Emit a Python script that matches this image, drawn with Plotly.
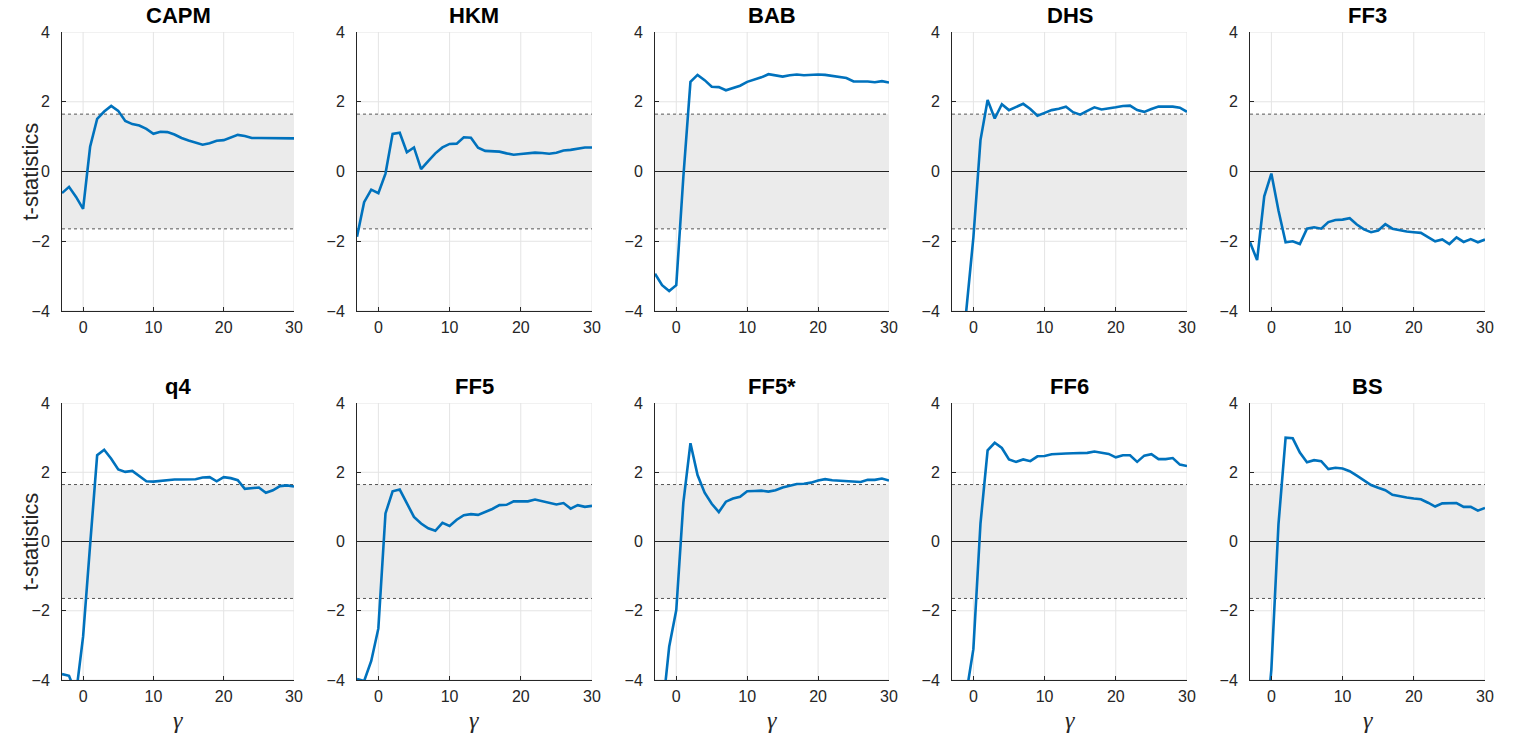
import plotly.graph_objects as go

gamma = list(range(-3, 31))
titles = ["CAPM", "HKM", "BAB", "DHS", "FF3", "q4", "FF5", "FF5*", "FF6", "BS"]

capm = [-0.62, -0.44, -0.73, -1.07, 0.71, 1.51, 1.72, 1.88, 1.74, 1.45, 1.36, 1.32, 1.22, 1.08,
        1.14, 1.13, 1.06, 0.96, 0.89, 0.84, 0.77, 0.81, 0.88, 0.90, 0.97, 1.05, 1.02, 0.96,
        0.96, 0.96, 0.96, 0.96, 0.96, 0.95]
hkm = [-1.87, -0.88, -0.52, -0.62, -0.06, 1.08, 1.11, 0.55, 0.69, 0.07, 0.30, 0.52, 0.69, 0.79,
       0.80, 0.98, 0.97, 0.68, 0.59, 0.59, 0.57, 0.52, 0.48, 0.50, 0.52, 0.54, 0.53, 0.51,
       0.54, 0.60, 0.62, 0.66, 0.69, 0.69]
bab = [-2.93, -3.26, -3.43, -3.26, -0.15, 2.57, 2.77, 2.62, 2.43, 2.42, 2.33, 2.40, 2.46, 2.57,
       2.63, 2.70, 2.79, 2.76, 2.72, 2.76, 2.78, 2.76, 2.78, 2.78, 2.77, 2.74, 2.72, 2.68,
       2.58, 2.59, 2.58, 2.56, 2.59, 2.55]
dhs = [-7.0, -6.0, -4.0, -1.9, 0.9, 2.05, 1.52, 1.93, 1.76, 1.86, 1.94, 1.79, 1.60, 1.68,
       1.76, 1.80, 1.86, 1.70, 1.63, 1.74, 1.84, 1.78, 1.80, 1.84, 1.88, 1.89, 1.76, 1.71,
       1.79, 1.86, 1.86, 1.86, 1.83, 1.71]
ff3 = [-2.03, -2.54, -0.71, -0.06, -1.12, -2.03, -2.00, -2.08, -1.64, -1.60, -1.64, -1.45, -1.39,
       -1.38, -1.34, -1.52, -1.66, -1.74, -1.69, -1.51, -1.64, -1.69, -1.72, -1.74, -1.76, -1.88,
       -2.00, -1.95, -2.08, -1.89, -2.02, -1.94, -2.03, -1.95]
q4 = [-3.83, -3.88, -4.40, -2.75, -0.10, 2.49, 2.65, 2.39, 2.08, 2.01, 2.04, 1.88, 1.74, 1.73,
      1.75, 1.79, 1.79, 1.79, 1.79, 1.80, 1.85, 1.86, 1.74, 1.86, 1.83, 1.77, 1.52, 1.54,
      1.56, 1.41, 1.48, 1.60, 1.62, 1.59]
ff5 = [-3.97, -4.03, -3.45, -2.51, 0.81, 1.45, 1.50, 1.12, 0.71, 0.52, 0.38, 0.31, 0.54, 0.45,
       0.63, 0.76, 0.79, 0.77, 0.85, 0.94, 1.05, 1.06, 1.16, 1.15, 1.16, 1.21, 1.17, 1.12,
       1.07, 1.11, 0.95, 1.05, 1.00, 1.03]
ff5s = [-6.0, -5.0, -3.04, -1.98, 1.12, 2.84, 1.92, 1.41, 1.09, 0.85, 1.15, 1.24, 1.29, 1.45,
        1.46, 1.47, 1.44, 1.48, 1.56, 1.62, 1.66, 1.67, 1.70, 1.76, 1.80, 1.77, 1.76, 1.73,
        1.73, 1.72, 1.78, 1.78, 1.82, 1.76]
ff6 = [-6.0, -5.5, -4.4, -3.11, 0.52, 2.63, 2.85, 2.70, 2.37, 2.30, 2.37, 2.32, 2.46, 2.47,
       2.52, 2.52, 2.54, 2.55, 2.55, 2.56, 2.60, 2.56, 2.53, 2.43, 2.49, 2.49, 2.30, 2.48,
       2.52, 2.38, 2.38, 2.41, 2.22, 2.18]
bs = [-8.0, -7.0, -6.0, -3.7, 0.50, 3.00, 2.98, 2.57, 2.29, 2.35, 2.32, 2.09, 2.13, 2.11,
      2.03, 1.90, 1.76, 1.63, 1.55, 1.48, 1.35, 1.30, 1.27, 1.24, 1.22, 1.12, 1.01, 1.10,
      1.10, 1.11, 1.00, 1.00, 0.89, 0.97]
series = [capm, hkm, bab, dhs, ff3, q4, ff5, ff5s, ff6, bs]

crit = 1.645
x_ticks = [0, 10, 20, 30]
y_ticks = [-4, -2, 0, 2, 4]

W, H = 1525, 740
col_px = [(62, 294), (357, 592), (655, 889), (952, 1187), (1250, 1485)]
row_px = [(32, 311), (403, 680)]

DARK = "#262626"
GRID = "#e4e4e4"
fig = go.Figure()
annotations = []
shapes = []
for i, (name, vals) in enumerate(zip(titles, series)):
    r, c = divmod(i, 5)
    k = "" if i == 0 else str(i + 1)
    xa, ya = "x" + k, "y" + k
    x0p, x1p = col_px[c]
    y0p, y1p = row_px[r]
    fig.add_trace(go.Scatter(x=gamma, y=vals, mode="lines", xaxis=xa, yaxis=ya,
                             line=dict(color="#0072BD", width=2.6), showlegend=False,
                             hoverinfo="skip"))
    axcommon = dict(showgrid=False, zeroline=False, automargin=False,
                    showline=True, linecolor=DARK, linewidth=1, ticks="inside", ticklen=4,
                    tickcolor=DARK, tickfont=dict(family="Arial", size=16, color=DARK),
                    mirror=False, fixedrange=True)
    fig.layout["xaxis" + k] = dict(axcommon, domain=[x0p / W, x1p / W], range=[-3, 30],
                                   tickvals=x_ticks, anchor=ya, ticklabelstandoff=2)
    fig.layout["yaxis" + k] = dict(axcommon, domain=[1 - y1p / H, 1 - y0p / H], range=[-4, 4],
                                   tickvals=y_ticks, anchor=xa, ticklabelstandoff=8)
    xd, yd = xa + " domain", ya + " domain"
    # grid lines (below band)
    for xv in x_ticks:
        shapes.append(dict(type="line", xref=xa, yref=yd, x0=xv, x1=xv, y0=0, y1=1,
                           line=dict(color=GRID, width=1), layer="below"))
    for yv in y_ticks:
        shapes.append(dict(type="line", xref=xd, yref=ya, x0=0, x1=1, y0=yv, y1=yv,
                           line=dict(color=GRID, width=1), layer="below"))
    shapes.append(dict(type="rect", xref=xd, yref=ya, x0=0, x1=1, y0=-crit, y1=crit,
                       fillcolor="#ebebeb", line=dict(width=0), layer="below"))
    for yy in (-crit, crit):
        shapes.append(dict(type="line", xref=xd, yref=ya, x0=0, x1=1, y0=yy, y1=yy,
                           line=dict(color="#555555", width=1, dash="dot"), layer="below"))
    shapes.append(dict(type="line", xref=xd, yref=ya, x0=0, x1=1, y0=0, y1=0,
                       line=dict(color="#222222", width=1), layer="below"))
    annotations.append(dict(text="<b>" + name + "</b>", xref="paper", yref="paper",
                            x=(x0p + x1p) / 2 / W, y=1 - (y0p - 17) / H, xanchor="center",
                            yanchor="middle", showarrow=False,
                            font=dict(family="Arial", size=22, color="#000000")))
    if r == 1:
        annotations.append(dict(text="<i>γ</i>", xref="paper", yref="paper",
                                x=(x0p + x1p) / 2 / W, y=1 - 720 / H, xanchor="center",
                                yanchor="middle", showarrow=False,
                                font=dict(family="Liberation Serif", size=24, color=DARK)))
    if c == 0:
        annotations.append(dict(text="t-statistics", xref="paper", yref="paper",
                                x=30 / W, y=1 - (y0p + y1p) / 2 / H, xanchor="center",
                                yanchor="middle", textangle=-90, showarrow=False,
                                font=dict(family="Arial", size=22, color=DARK)))

fig.update_layout(width=W, height=H, margin=dict(l=0, r=0, t=0, b=0, autoexpand=False),
                  paper_bgcolor="white", plot_bgcolor="white",
                  shapes=shapes, annotations=annotations, showlegend=False)
fig.write_html("out.html")
